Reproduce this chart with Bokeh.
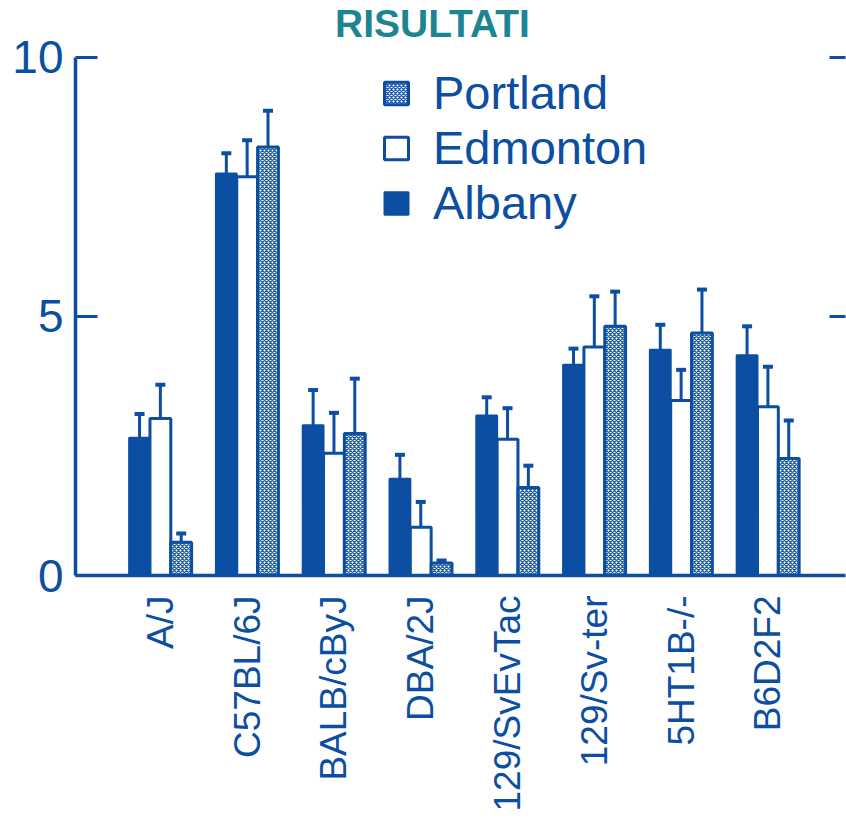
import math
from bokeh.plotting import figure
from bokeh.models import (Range1d, FixedTicker, LinearAxis, Whisker, TeeHead,
                          ColumnDataSource, Legend, LegendItem, Label)
from bokeh.embed import file_html
from bokeh.resources import INLINE

# ---- data ----
strains = ["A/J", "C57BL/6J", "BALB/cByJ", "DBA/2J", "129/SvEvTac",
           "129/Sv-ter", "5HT1B-/-", "B6D2F2"]
albany = [2.66, 7.76, 2.90, 1.87, 3.09, 4.07, 4.36, 4.25]
albany_err = [0.46, 0.39, 0.68, 0.46, 0.35, 0.31, 0.48, 0.56]
edmonton = [3.03, 7.70, 2.36, 0.93, 2.63, 4.41, 3.38, 3.26]
edmonton_err = [0.65, 0.70, 0.78, 0.49, 0.60, 0.98, 0.59, 0.77]
portland = [0.64, 8.27, 2.74, 0.24, 1.70, 4.81, 4.68, 2.26]
portland_err = [0.17, 0.70, 1.06, 0.05, 0.42, 0.67, 0.84, 0.73]
y_ticks = [0, 5, 10]
title_text = "RISULTATI"

BLUE = "#0b4ea2"
TEAL = "#1d8592"
FONT = "Liberation Sans"

W = 0.24
xs = list(range(len(strains)))

# frame spans the full top so the title can sit inside it; axes stop at 10
p = figure(width=848, height=814, output_backend="svg", toolbar_location=None,
           x_range=Range1d(-0.978, 7.894), y_range=Range1d(0, 11.1),
           min_border_left=75, min_border_top=0, min_border_bottom=230,
           min_border_right=0)
p.outline_line_color = None
p.xgrid.visible = False
p.ygrid.visible = False
p.background_fill_color = "white"
p.border_fill_color = "white"

def src(vals, errs, off):
    xp = [x + off for x in xs]
    return ColumnDataSource(dict(x=xp, top=vals,
                                 upper=[v + e for v, e in zip(vals, errs)],
                                 lower=[v - e for v, e in zip(vals, errs)]))

s_alb = src(albany, albany_err, -W)
s_edm = src(edmonton, edmonton_err, 0)
s_por = src(portland, portland_err, W)

r_alb = p.vbar(x="x", top="top", width=W, source=s_alb, fill_color=BLUE,
               line_color=BLUE, line_width=2)
r_edm = p.vbar(x="x", top="top", width=W, source=s_edm, fill_color="white",
               line_color=BLUE, line_width=3)
r_por = p.vbar(x="x", top="top", width=W, source=s_por, fill_color="white",
               line_color=BLUE, line_width=3, hatch_pattern="diagonal_cross",
               hatch_color=BLUE, hatch_scale=4, hatch_weight=1.4, hatch_alpha=0.9)

for s in (s_alb, s_edm, s_por):
    wk = Whisker(base="x", upper="upper", lower="lower", source=s,
                 line_color=BLUE, line_width=3,
                 upper_head=TeeHead(size=10, line_color=BLUE, line_width=4),
                 lower_head=TeeHead(size=10, line_color=BLUE, line_width=4))
    p.add_layout(wk)

# left axis
ya = p.yaxis[0]
ya.ticker = FixedTicker(ticks=y_ticks)
ya.bounds = (y_ticks[0], y_ticks[-1])
ya.axis_line_color = BLUE
ya.axis_line_width = 3.5
ya.major_tick_line_color = BLUE
ya.major_tick_line_width = 3
ya.major_tick_in = 22
ya.major_tick_out = 0
ya.minor_tick_line_color = None
ya.major_label_text_color = BLUE
ya.major_label_text_font = FONT
ya.major_label_text_font_size = "46px"
ya.major_label_standoff = 12

# bottom axis
xa = p.xaxis[0]
xa.ticker = FixedTicker(ticks=xs)
xa.major_label_overrides = {i: s for i, s in enumerate(strains)}
xa.major_label_orientation = math.pi / 2
xa.axis_line_color = BLUE
xa.axis_line_width = 3.5
xa.major_tick_line_color = None
xa.minor_tick_line_color = None
xa.major_label_text_color = BLUE
xa.major_label_text_font = FONT
xa.major_label_text_font_size = "37px"
xa.major_label_standoff = 14

# right axis: inward ticks only
ra = LinearAxis(ticker=FixedTicker(ticks=y_ticks[1:]), bounds=(y_ticks[0], y_ticks[-1]))
ra.axis_line_alpha = 0
ra.major_tick_line_color = BLUE
ra.major_tick_line_width = 3
ra.major_tick_in = 16
ra.major_tick_out = 0
ra.minor_tick_line_color = None
ra.major_label_overrides = {5: " ", 10: " "}
ra.major_label_text_font_size = "1px"
ra.major_label_standoff = 0
p.add_layout(ra, "right")

legend = Legend(items=[LegendItem(label="Portland", renderers=[r_por]),
                       LegendItem(label="Edmonton", renderers=[r_edm]),
                       LegendItem(label="Albany", renderers=[r_alb])],
                location=(306, 345), padding=0, margin=0, spacing=0,
                glyph_width=30, glyph_height=28, label_standoff=22,
                border_line_alpha=0, background_fill_alpha=0,
                label_text_font=FONT, label_text_font_size="47px",
                label_text_color=BLUE)
p.add_layout(legend)

p.add_layout(Label(x=3.135, y=10.66, text=title_text, text_align="center",
                   text_baseline="middle", text_color=TEAL, text_font=FONT,
                   text_font_style="bold", text_font_size="39px"))

open("out.html", "w").write(file_html(p, INLINE))
